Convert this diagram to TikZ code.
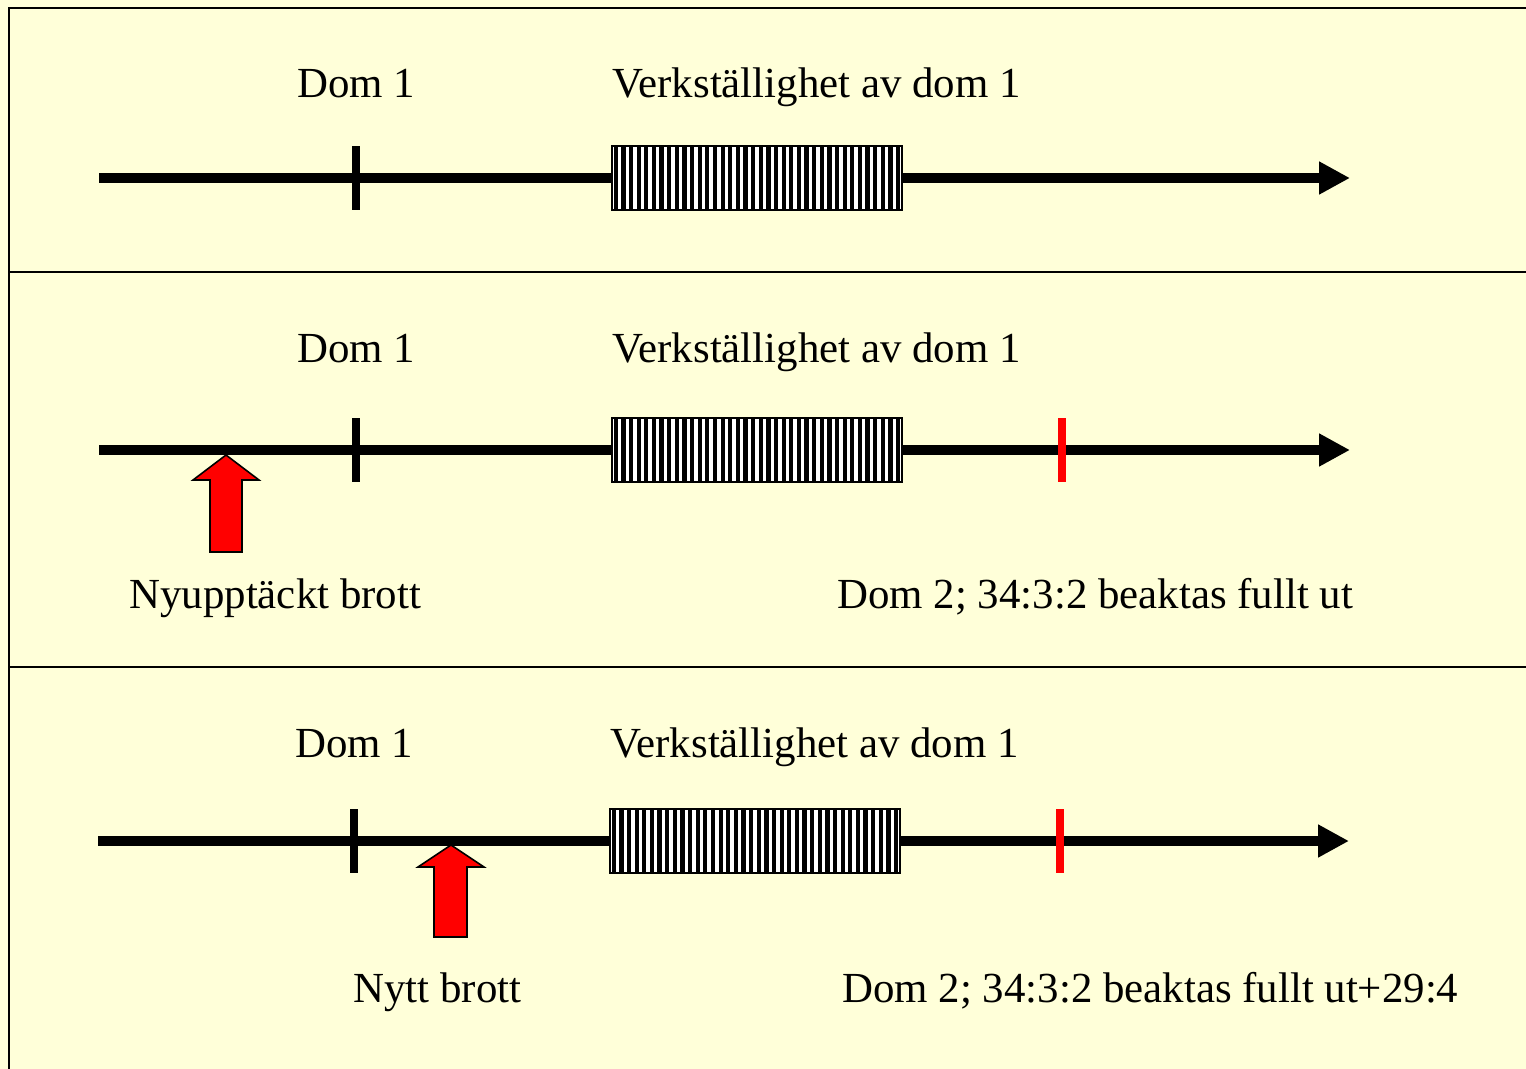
\documentclass[tikz,border=0pt]{standalone}
\usepackage{fontspec}
\setmainfont{Liberation Serif}
\usetikzlibrary{arrows.meta}
\definecolor{bgcream}{RGB}{255,255,217}
\definecolor{brottred}{RGB}{255,0,0}

\tikzset{
  timeaxis/.style={line width=5.7pt, -{Triangle[length=0.62cm, width=0.62cm]}},
  domtick/.style={line width=5.1pt},
  redtick/.style={line width=5.1pt, brottred},
  frameline/.style={line width=1.2pt},
  brottarrow/.style={fill=brottred, draw=black, line width=0.9pt, line join=miter},
  txt/.style={font=\fontsize{24.4}{28}\selectfont, inner sep=0pt},
}

\begin{document}
\begin{tikzpicture}[x=0.02cm, y=-0.02cm]
    \useasboundingbox (0,0) rectangle (1526,1069);
    \fill[bgcream] (0,0) rectangle (1526,1069);

    % panels
    \draw[frameline] (1540,8) -- (9,8) -- (9,1080);
    \draw[frameline] (9,272) -- (1540,272);
    \draw[frameline] (9,667) -- (1540,667);

    % panel 1
    \node[txt, anchor=base] (dom1a) at (356,97) {Dom 1};
    \node[txt, anchor=base west] (verka) at (612,97) {Verkställighet av dom 1};
    \coordinate (starta) at (99,178);
    \coordinate (enda) at (1350,178);
    \draw[timeaxis] (starta) -- (enda);
    \draw[domtick] (356,146) -- (356,210);
    \fill[white] (612,146) rectangle (902,210);
    \foreach \i in {0,...,37}
        \draw[line width=2.4pt] ({612+3.8+7.63*\i},146) -- ++(0,64);
    \draw[line width=1.2pt] (612,146) rectangle (902,210);

    % panel 2
    \node[txt, anchor=base] (dom1b) at (356,362) {Dom 1};
    \node[txt, anchor=base west] (verkb) at (612,362) {Verkställighet av dom 1};
    \coordinate (startb) at (99,450);
    \coordinate (endb) at (1350,450);
    \draw[timeaxis] (startb) -- (endb);
    \draw[domtick] (356,418) -- (356,482);
    \fill[white] (612,418) rectangle (902,482);
    \foreach \i in {0,...,37}
        \draw[line width=2.4pt] ({612+3.8+7.63*\i},418) -- ++(0,64);
    \draw[line width=1.2pt] (612,418) rectangle (902,482);
    \draw[redtick] (1062,418) -- (1062,482);
    \draw[brottarrow] (226,455) -- (259,480) -- (242,480) -- (242,552)
        -- (210,552) -- (210,480) -- (193,480) -- cycle;
    \node[txt, anchor=base west] (nyupp) at (129,608) {Nyupptäckt brott};
    \node[txt, anchor=base west] (dom2b) at (837,608) {Dom 2; 34:3:2 beaktas fullt ut};

    % panel 3
    \node[txt, anchor=base] (dom1c) at (354,757) {Dom 1};
    \node[txt, anchor=base west] (verkc) at (610,757) {Verkställighet av dom 1};
    \coordinate (startc) at (98,841);
    \coordinate (endc) at (1349,841);
    \draw[timeaxis] (startc) -- (endc);
    \draw[domtick] (354,809) -- (354,873);
    \fill[white] (610,809) rectangle (900,873);
    \foreach \i in {0,...,37}
        \draw[line width=2.4pt] ({610+3.8+7.63*\i},809) -- ++(0,64);
    \draw[line width=1.2pt] (610,809) rectangle (900,873);
    \draw[redtick] (1060,809) -- (1060,873);
    \draw[brottarrow] (451,845) -- (484,867) -- (467,867) -- (467,937)
        -- (434,937) -- (434,867) -- (418,867) -- cycle;
    \node[txt, anchor=base west] (nytt) at (353,1002) {Nytt brott};
    \node[txt, anchor=base west] (dom2c) at (842,1002) {Dom 2; 34:3:2 beaktas fullt ut+29:4};
\end{tikzpicture}
\end{document}
